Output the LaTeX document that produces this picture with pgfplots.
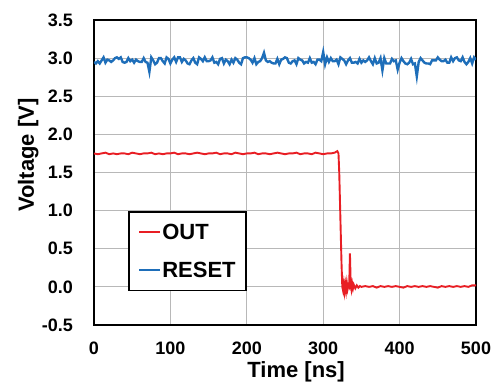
\documentclass[border=0pt]{standalone}
\usepackage{fontspec}
\setmainfont{Liberation Sans}
\usepackage{pgfplots}
\pgfplotsset{compat=1.18}
\definecolor{outred}{RGB}{232,30,36}
\definecolor{resetblue}{RGB}{30,110,185}
\begin{document}
\begin{tikzpicture}
\begin{axis}[
  scale only axis, width=382pt, height=305pt,
  xmin=0, xmax=500, ymin=-0.5, ymax=3.5,
  xtick={0,100,200,300,400,500},
  xticklabels={0,100,200,300,400,500},
  ytick={-0.5,0,0.5,1,1.5,2,2.5,3,3.5},
  yticklabels={-0.5,0.0,0.5,1.0,1.5,2.0,2.5,3.0,3.5},
  major tick length=0pt,
  grid=major,
  major grid style={draw=black!28, line width=0.9pt},
  axis line style={line width=2pt},
  tick label style={font=\fontsize{18}{20}\selectfont\bfseries, inner sep=0pt},
  yticklabel style={xshift=-21pt},
  xticklabel style={yshift=-17pt},
  xlabel={Time [ns]}, ylabel={Voltage [V]},
  label style={font=\fontsize{22}{24}\selectfont\bfseries},
  xlabel style={at={(axis description cs:0.529,-0.171)}, anchor=base},
  ylabel style={at={(axis description cs:-0.172,0.557)}, anchor=center},
  legend style={at={(axis description cs:0.089,0.374)}, anchor=north west,
    draw=black, line width=1.8pt, fill=white,
    font=\fontsize{22}{26}\selectfont\bfseries,
    inner xsep=9pt, inner ysep=10pt, row sep=17pt,
    nodes={inner xsep=1pt, inner ysep=2pt}},
  legend cell align=left,
  legend image code/.code={\draw[#1] (0pt,0pt) -- (21pt,0pt);},
]
\addplot[color=outred, line width=1.9pt] coordinates {
(0,1.75)(5,1.74)(10,1.75)(15,1.76)(20,1.74)(25,1.75)(30,1.74)(35,1.75)(40,1.75)(45,1.74)
(50,1.76)(55,1.75)(60,1.74)(65,1.75)(70,1.75)(75,1.76)(80,1.74)(85,1.75)(90,1.74)(95,1.75)
(100,1.75)(105,1.76)(110,1.74)(115,1.75)(120,1.75)(125,1.74)(130,1.75)(135,1.76)(140,1.75)(145,1.74)
(150,1.75)(155,1.75)(160,1.76)(165,1.74)(170,1.75)(175,1.75)(180,1.74)(185,1.76)(190,1.75)(195,1.74)
(200,1.75)(205,1.75)(210,1.76)(215,1.74)(220,1.75)(225,1.75)(230,1.74)(235,1.75)(240,1.76)(245,1.75)
(250,1.74)(255,1.75)(260,1.75)(265,1.76)(270,1.74)(275,1.75)(280,1.75)(285,1.74)(290,1.76)(295,1.75)
(300,1.74)(305,1.75)(310,1.75)(315,1.76)(318.5,1.78)(320,1.75)(321,1.50)(322,1.10)(323,0.70)(324,0.30)
(325,0.00)(326,-0.05)(327,0.04)(328,-0.06)(329,0.03)(330,-0.05)(331,0.05)(332,-0.03)(333,0.02)(334,0.00)
(335,0.44)(336,0.05)(337,-0.03)(338,0.04)(339,-0.02)(340,0.03)(342,-0.02)(344,0.02)(346,-0.01)(348,0.01)
(350,0.00)(355,0.01)(360,0.00)(365,0.01)(370,-0.01)(375,0.01)(380,0.00)(385,0.01)(390,0.00)(395,0.01)
(400,0.00)(405,-0.01)(410,0.01)(415,0.00)(420,0.01)(425,0.00)(430,0.01)(435,0.00)(440,0.01)(445,0.00)
(450,-0.01)(455,0.01)(460,0.00)(465,0.01)(470,0.00)(475,0.01)(480,0.00)(485,0.01)(490,0.00)(495,0.02)(500,0.02)
};
\addlegendentry{OUT}
\addplot[color=resetblue, line width=2.4pt] coordinates {
(0,2.95)(2.5,2.93)(5,2.96)(7.5,2.93)(10,2.97)(12.5,3.01)(15,2.94)(17.5,2.98)(20,2.97)(22.5,2.95)
(25,2.97)(27.5,3.00)(30,3.01)(32.5,2.99)(35,3.01)(37.5,2.95)(40,2.94)(42.5,2.95)(45,3.00)(47.5,2.96)
(50,2.98)(52.5,2.94)(55,2.98)(57.5,2.96)(60,2.95)(62.5,2.95)(65,3.00)(67.5,2.95)(70,2.94)(72.5,2.82)
(75,3.01)(77.5,2.97)(80,2.92)(82.5,2.94)(85,3.00)(87.5,3.00)(90,2.96)(92.5,2.93)(95,3.01)(97.5,2.99)
(100,2.93)(102.5,2.98)(105,3.01)(107.5,2.95)(110,3.01)(112.5,3.01)(115,2.95)(117.5,2.99)(120,2.97)(122.5,2.93)
(125,2.92)(127.5,2.97)(130,3.00)(132.5,2.94)(135,2.92)(137.5,3.01)(140,2.99)(142.5,2.96)(145,3.01)(147.5,2.96)
(150,2.96)(152.5,2.97)(155,3.01)(157.5,2.94)(160,2.95)(162.5,2.92)(165,2.99)(167.5,3.00)(170,2.93)(172.5,2.98)
(175,2.96)(177.5,2.92)(180,2.98)(182.5,2.94)(185,3.00)(187.5,2.98)(190,2.94)(192.5,2.92)(195,3.00)(197.5,3.01)
(200,3.01)(202.5,3.00)(205,2.98)(207.5,2.94)(210,3.00)(212.5,2.92)(215,2.95)(217.5,2.96)(220,3.00)(222.5,3.07)
(225,2.97)(227.5,2.95)(230,2.96)(232.5,2.94)(235,2.93)(237.5,2.93)(240,2.99)(242.5,2.92)(245,2.98)(247.5,2.99)
(250,3.01)(252.5,3.00)(255,2.94)(257.5,2.93)(260,2.96)(262.5,2.97)(265,2.92)(267.5,3.00)(270,2.98)(272.5,2.97)
(275,2.93)(277.5,2.95)(280,2.94)(282.5,3.00)(285,2.94)(287.5,2.95)(290,2.92)(292.5,2.98)(295,2.98)(297.5,2.96)
(300,3.08)(302.5,2.92)(305,3.01)(307.5,2.95)(310,3.00)(312.5,2.96)(315,2.96)(317.5,2.98)(320,2.92)(322.5,3.01)
(325,2.99)(327.5,2.97)(330,2.92)(332.5,2.97)(335,3.00)(337.5,2.94)(340,2.94)(342.5,2.95)(345,2.93)(347.5,2.99)
(350,2.94)(352.5,2.97)(355,2.95)(357.5,2.97)(360,3.01)(362.5,2.96)(365,2.92)(367.5,3.00)(370,2.93)(372.5,2.94)
(375,3.00)(377.5,2.84)(380,3.00)(382.5,2.93)(385,2.93)(387.5,2.93)(390,2.99)(392.5,2.96)(395,2.97)(397.5,2.85)
(400,2.94)(402.5,3.00)(405,2.96)(407.5,2.93)(410,2.92)(412.5,2.94)(415,2.99)(417.5,2.92)(420,2.93)(422.5,2.76)
(425,2.95)(427.5,3.00)(430,2.97)(432.5,2.94)(435,2.93)(437.5,2.93)(440,2.92)(442.5,2.97)(445,2.97)(447.5,2.97)
(450,3.01)(452.5,2.98)(455,2.96)(457.5,2.96)(460,2.98)(462.5,2.94)(465,2.94)(467.5,3.01)(470,2.96)(472.5,3.00)
(475,3.01)(477.5,2.97)(480,2.96)(482.5,3.01)(485,2.95)(487.5,2.92)(490,2.95)(492.5,3.00)(495,2.93)(497.5,3.01)
(500,2.98)
};
\addlegendentry{RESET}
\end{axis}
\pgfresetboundingbox
\path ([shift={(-94pt,-57pt)}]current axis.south west) rectangle ([shift={(16pt,20pt)}]current axis.north east);
\end{tikzpicture}
\end{document}
